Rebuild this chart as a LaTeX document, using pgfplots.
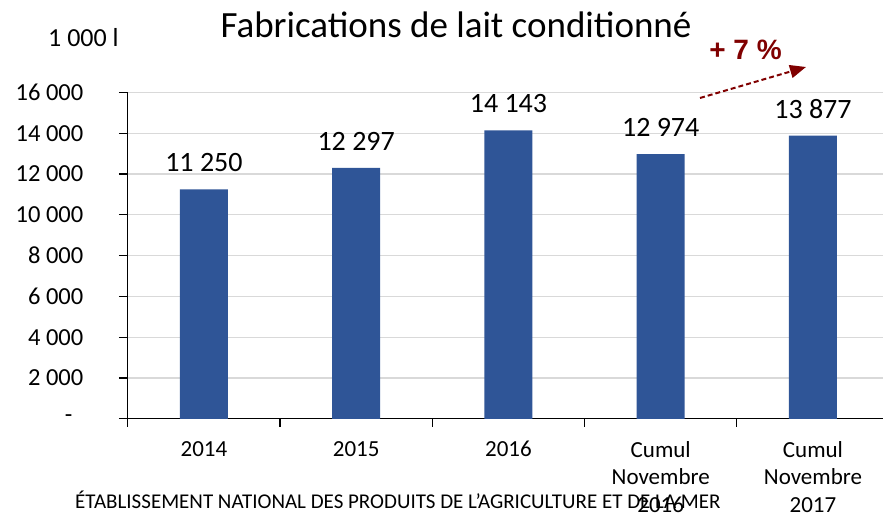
\documentclass[border=0pt]{standalone}
\usepackage{fontspec}
\setmainfont{Carlito}
\newfontfamily\arialfont{Liberation Sans}
\usepackage{pgfplots}
\pgfplotsset{compat=1.18}
\usetikzlibrary{arrows.meta}
\definecolor{barblue}{RGB}{47,85,151}
\definecolor{darkred}{RGB}{128,0,0}
\definecolor{gridgray}{RGB}{217,217,217}
\begin{document}
\begin{tikzpicture}[x=1pt,y=1pt]
\useasboundingbox (0,0) rectangle (883,513);
\begin{axis}[
  at={(127.8pt,94.2pt)}, anchor=south west, scale only axis,
  width=755.2pt, height=326.4pt,
  xmin=-0.5, xmax=4.46, ymin=0, ymax=16000,
  axis x line*=bottom, axis y line*=left,
  axis line style={-, black, line width=1.2pt},
  scaled y ticks=false,
  ytick={0,2000,4000,6000,8000,10000,12000,14000,16000},
  yticklabels={-\kern11pt,2 000,4 000,6 000,8 000,10 000,12 000,14 000,16 000},
  ymajorgrids, grid style={gridgray, line width=1.2pt},
  tick align=outside, major tick length=9pt, minor tick length=8pt,
  tick style={black, line width=1.2pt},
  xtick={0,1,2,3,4},
  xticklabels={2014,2015,2016,{Cumul\\Novembre\\2016},{Cumul\\Novembre\\2017}},
  major x tick style={draw=none},
  minor xtick={-0.5,0.5,1.5,2.5,3.5},
  xticklabel style={align=center, font=\fontsize{23}{27.5}\selectfont, anchor=north, yshift=-10pt},
  yticklabel style={font=\fontsize{24.5}{27}\selectfont, xshift=-32pt},
  clip=false,
]
\addplot[ybar, bar width=48pt, fill=barblue, draw=none,
  point meta=explicit symbolic,
  nodes near coords,
  nodes near coords style={anchor=center, yshift=27pt, font=\fontsize{28}{30}\selectfont, black}]
  coordinates {(0,11250) [11 250] (1,12297) [12 297] (2,14143) [14 143] (3,12974) [12 974] (4,13877) [13 877]};
\end{axis}
\node[anchor=base west, inner sep=0pt, font=\fontsize{26}{30}\selectfont] at (48,466) {1 000 l};
\node[anchor=base, inner sep=0pt, font=\fontsize{37}{40}\selectfont] at (456,475) {Fabrications de lait conditionné};
\node[anchor=center, inner sep=0pt, text=darkred, font=\arialfont\bfseries\fontsize{28}{32}\selectfont] at (745.5,463) {+ 7 \%};
\draw[darkred, line width=2pt, dash pattern=on 5pt off 3pt, -{Triangle[length=16pt, width=13pt]}] (700,415) -- (806,446);
\node[anchor=base west, inner sep=0pt, font=\fontsize{21}{22}\selectfont] at (75,4) {ÉTABLISSEMENT NATIONAL DES PRODUITS DE L’AGRICULTURE ET DE LA MER};
\end{tikzpicture}
\end{document}
